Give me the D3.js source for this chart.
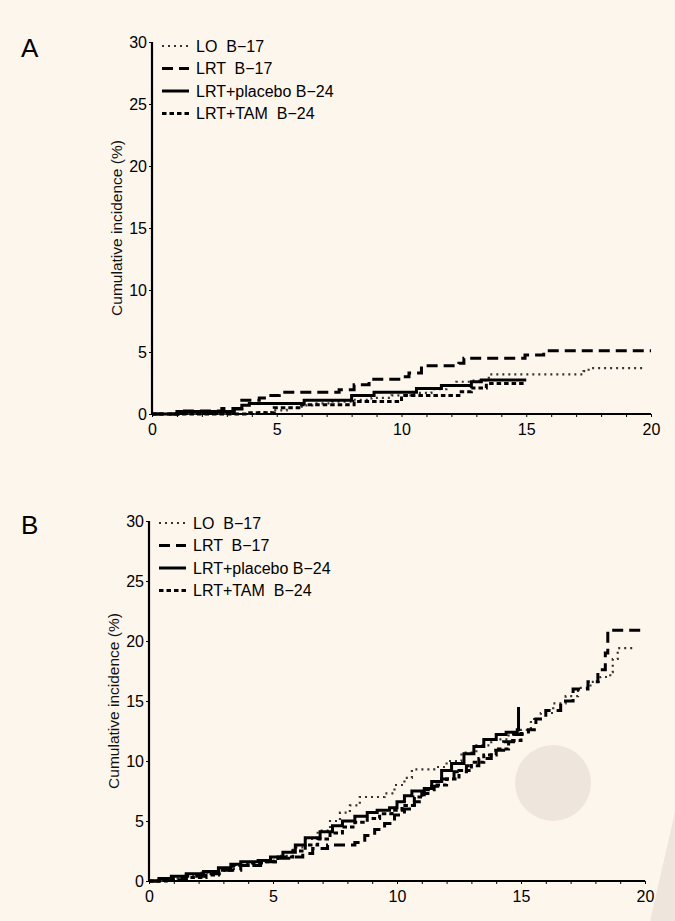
<!DOCTYPE html>
<html>
<head>
<meta charset="utf-8">
<script src="https://cdn.jsdelivr.net/npm/d3@7"></script>
<style>
  body { margin: 0; background: #fdf6ed; }
  svg { display: block; font-family: "Liberation Sans", Arial, sans-serif; }
</style>
</head>
<body>
<div class="g-chart-container"></div>
<script>
// legend labels, one per series
var seriesNames = ["LO  B\u221217", "LRT  B\u221217", "LRT+placebo B\u221224", "LRT+TAM  B\u221224"];
var xTicks = [0, 5, 10, 15, 20];
var yTicks = [0, 5, 10, 15, 20, 25, 30];

// panel A : [years, cumulative incidence %]
var loA = [[0,0],[3.6,0],[4.2,0.15],[4.8,0.3],[5.4,0.5],[6.0,0.7],[6.6,0.85],[7.2,1.0],[8.0,1.15],[8.8,1.3],[9.6,1.5],[10.4,1.7],[11.2,2.0],[11.8,2.3],[12.2,2.6],[12.8,2.7],[13.5,3.2],[17.3,3.45],[17.5,3.7],[19.8,3.7]];
var lrtA = [[0,0],[1.05,0.25],[2.8,0.45],[3.6,1.1],[4.3,1.3],[4.6,1.5],[5.1,1.75],[7.5,1.95],[8.1,2.35],[8.7,2.8],[10.0,3.0],[10.3,3.3],[10.8,3.9],[12.3,4.1],[12.5,4.5],[14.95,4.75],[15.7,5.1],[20,5.1]];
var placeboA = [[0,0],[1.0,0.2],[3.3,0.4],[3.6,0.7],[3.9,0.85],[6.1,1.1],[8.0,1.5],[8.9,1.75],[10.6,2.05],[11.6,2.3],[12.8,2.6],[13.2,2.75],[15.0,2.75]];
var tamA = [[0,0],[3.8,0.1],[4.9,0.5],[6.0,0.75],[8.1,1.0],[10.0,1.5],[12.3,1.8],[12.8,2.1],[13.4,2.45],[14.9,2.45]];

// panel B
var loB = [[0,0],[0.5,0.2],[1.2,0.4],[2.0,0.7],[2.8,1.0],[3.5,1.4],[4.5,1.7],[5.2,2.1],[5.8,2.8],[6.3,3.5],[6.8,4.2],[7.3,5.0],[7.7,5.7],[8.1,6.3],[8.5,7.0],[9.5,7.3],[9.9,8.0],[10.3,8.6],[10.6,9.3],[11.5,9.5],[12.0,10.0],[12.6,10.7],[13.2,11.3],[13.8,11.8],[14.5,12.2],[15.0,12.6],[15.4,13.5],[15.8,14.0],[16.3,14.8],[16.8,15.4],[17.3,16.1],[17.8,16.6],[18.2,17.0],[18.6,17.4],[18.7,18.5],[18.9,19.4],[19.6,19.4]];
var lrtB = [[0,0],[0.6,0.2],[1.5,0.4],[2.5,0.6],[3.0,0.9],[3.7,1.3],[4.5,1.6],[5.1,1.9],[5.8,2.0],[6.2,2.3],[6.6,2.7],[7.2,3.0],[8.3,3.2],[8.7,3.8],[9.1,4.3],[9.5,4.8],[9.9,5.5],[10.3,6.0],[10.7,6.6],[11.0,7.3],[11.4,7.9],[11.8,8.5],[12.3,9.1],[12.8,9.6],[13.3,10.2],[13.8,10.9],[14.3,11.6],[14.7,12.2],[15.3,12.6],[15.6,13.5],[16.0,14.2],[16.6,15.0],[17.1,16.0],[17.7,16.6],[18.1,17.6],[18.4,19.0],[18.5,20.9],[20,20.9]];
var placeboB = [[0,0],[0.4,0.2],[0.9,0.4],[1.5,0.6],[2.2,0.8],[2.8,1.1],[3.3,1.4],[3.7,1.6],[4.4,1.7],[4.9,2.0],[5.4,2.4],[5.9,3.0],[6.3,3.6],[6.9,4.1],[7.4,4.6],[7.8,5.0],[8.3,5.4],[8.8,5.7],[9.2,5.9],[9.7,6.1],[10.0,6.6],[10.3,7.1],[10.6,7.5],[11.1,7.7],[11.4,8.3],[11.8,9.2],[12.2,9.8],[12.7,10.6],[13.1,11.2],[13.5,11.8],[14.0,12.2],[14.4,12.4],[14.85,12.6],[14.9,14.5]];
var tamB = [[0,0],[0.7,0.1],[1.5,0.3],[2.3,0.5],[2.8,0.9],[3.4,1.3],[4.0,1.5],[4.6,1.6],[5.2,2.0],[5.8,2.5],[6.3,3.0],[6.8,3.5],[7.3,4.0],[7.8,4.5],[8.3,4.9],[8.8,5.2],[9.3,5.6],[9.8,5.9],[10.2,6.3],[10.7,7.0],[11.1,7.6],[11.5,8.0],[12.0,8.5],[12.5,9.2],[13.0,9.9],[13.5,10.5],[14.0,11.0],[14.5,11.7],[15.0,12.3],[15.1,12.3]];

var width = 675;
var height = 921;

// line styles per series: dotted, long dash, solid, short dash
var styles = [
  { dash: "2,4", w: 2.2, color: "#333" },
  { dash: "11,6", w: 3, color: "#000" },
  { dash: null, w: 3, color: "#000" },
  { dash: "4.5,3", w: 3, color: "#000" }
];

var svg = d3.select(".g-chart-container")
  .append("svg")
  .attr("width", width)
  .attr("height", height);

svg.append("rect")
  .attr("width", width)
  .attr("height", height)
  .style("fill", "#fdf6ed");

// stray marks in the scan
svg.append("circle")
  .attr("cx", 553).attr("cy", 783).attr("r", 38)
  .style("fill", "#eee6dd");
svg.append("path")
  .attr("d", "M675,812 L675,921 L650,921 Z")
  .style("fill", "#eee6dd");

drawPanel({ label: "A", lx: 21, ly: 57, x0: 152, x1: 651, y0: 414, y1: 42, legY: 46,
  series: [loA, lrtA, placeboA, tamA] });
drawPanel({ label: "B", lx: 21, ly: 534, x0: 149, x1: 645, y0: 881, y1: 521, legY: 523,
  series: [loB, lrtB, placeboB, tamB] });

function drawPanel(p) {
  var x = d3.scaleLinear().domain([0, 20]).range([p.x0, p.x1]);
  var y = d3.scaleLinear().domain([0, 30]).range([p.y0, p.y1]);

  svg.append("text")
    .attr("x", p.lx).attr("y", p.ly)
    .style("font-size", "26px")
    .style("fill", "#000")
    .text(p.label);

  var xAxis = svg.append("g")
    .attr("transform", "translate(0," + p.y0 + ")")
    .call(d3.axisBottom(x).tickValues(d3.range(0, 21, 1)).tickSize(3).tickFormat(function(d){
      return xTicks.indexOf(d) > -1 ? d : "";
    }));
  xAxis.select(".domain").attr("d", "M" + p.x0 + ",0H" + p.x1).style("stroke-width", 2);
  xAxis.selectAll("text").style("font-size", "16px").attr("dy", "0.95em").style("fill", "#000");

  var yAxis = svg.append("g")
    .attr("transform", "translate(" + p.x0 + ",0)")
    .call(d3.axisLeft(y).tickValues(yTicks).tickSize(3).tickPadding(2));
  yAxis.select(".domain").attr("d", "M0," + p.y1 + "V" + p.y0).style("stroke-width", 2.2);
  yAxis.selectAll("text").style("font-size", "16px").style("fill", "#000");

  svg.append("text")
    .attr("transform", "translate(" + (p.x0 - 30) + "," + ((p.y0 + p.y1) / 2) + ") rotate(-90)")
    .attr("text-anchor", "middle")
    .style("font-size", "15.5px")
    .style("fill", "#111")
    .text("Cumulative incidence (%)");

  var line = d3.line()
    .curve(d3.curveStepAfter)
    .x(function(d){ return x(d[0]); })
    .y(function(d){ return y(d[1]); });

  p.series.forEach(function(s, i){
    svg.append("path")
      .datum(s)
      .attr("d", line)
      .style("fill", "none")
      .style("stroke", styles[i].color)
      .style("stroke-width", styles[i].w)
      .style("stroke-dasharray", styles[i].dash);
  });

  // legend
  var leg = svg.append("g").selectAll("g")
    .data(seriesNames)
    .enter().append("g")
    .attr("transform", function(d, i){ return "translate(" + (p.x0 + 10) + "," + (p.legY + i * 22.5) + ")"; });
  leg.append("line")
    .attr("x1", 0).attr("x2", 27)
    .style("stroke", function(d, i){ return styles[i].color; })
    .style("stroke-width", function(d, i){ return styles[i].w; })
    .style("stroke-dasharray", function(d, i){ return styles[i].dash; });
  leg.append("text")
    .attr("x", 34).attr("dy", "0.36em")
    .style("font-size", "16px")
    .style("fill", "#000")
    .style("white-space", "pre")
    .attr("xml:space", "preserve")
    .text(function(d){ return d; });
}
</script>
</body>
</html>
